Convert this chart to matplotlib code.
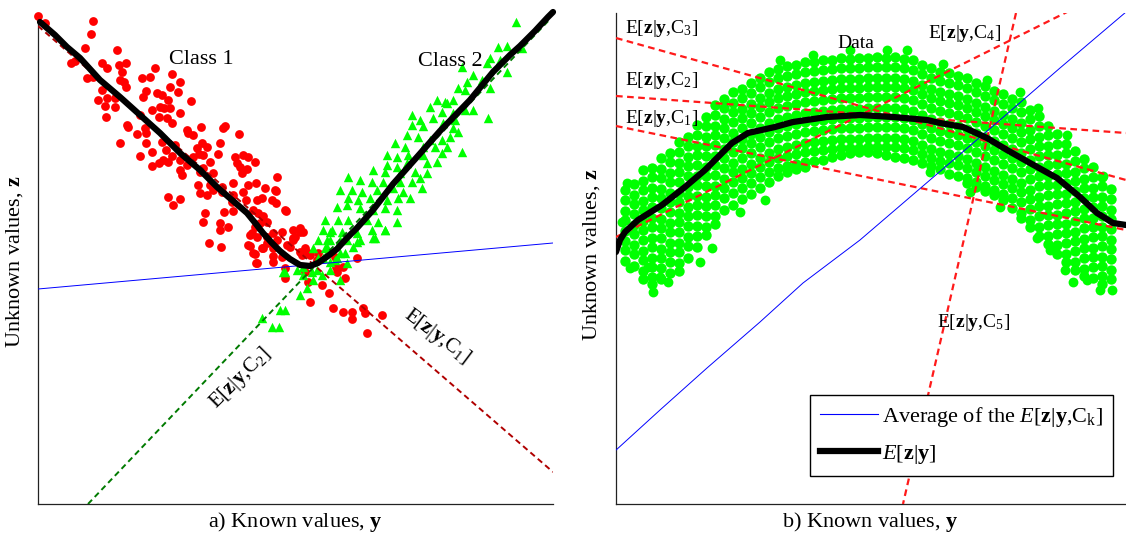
import matplotlib
matplotlib.use("Agg")
import matplotlib.pyplot as plt
from matplotlib.lines import Line2D

plt.rcParams['font.family'] = ['Liberation Serif', 'DejaVu Serif']
plt.rcParams['mathtext.fontset'] = 'custom'
plt.rcParams['mathtext.rm'] = 'Liberation Serif'
plt.rcParams['mathtext.it'] = 'Liberation Serif:italic'
plt.rcParams['mathtext.bf'] = 'Liberation Serif:bold'

# values, in chart units (y grows to the right, z grows upward
# but the axis is inverted so that the numbers follow the reading grid)

# ---- panel a: two classes ----
class1_y = [38, 45, 93, 91, 85, 117, 71, 75, 102, 107, 119, 126, 122, 155, 172, 87, 93, 142, 150, 120,
            124, 126, 180, 170, 178, 102, 146, 157, 162, 143, 98, 107, 115, 168, 191, 105, 115, 152, 160, 164,
            170, 180, 106, 140, 159, 167, 172, 127, 128, 201, 223, 225, 137, 145, 146, 187, 188, 193, 239, 120,
            146, 162, 175, 220, 202, 207, 197, 152, 166, 140, 172, 180, 193, 199, 203, 218, 235, 243, 248, 255,
            152, 159, 163, 168, 187, 210, 237, 240, 180, 182, 200, 203, 213, 242, 247, 198, 210, 222, 233, 248,
            256, 265, 277, 276, 200, 207, 213, 222, 233, 243, 168, 173, 180, 232, 246, 257, 276, 205, 224, 233,
            253, 258, 263, 286, 203, 220, 228, 220, 255, 260, 267, 252, 257, 267, 273, 282, 209, 221, 250, 262,
            267, 277, 293, 290, 255, 273, 282, 257, 285, 275, 262, 272, 285, 293, 300, 303, 293, 287, 273, 300,
            308, 317, 335, 357, 343, 337, 250, 248, 253, 256, 263, 273, 285, 305, 302, 310, 318, 305, 308, 322,
            329, 336, 345, 310, 333, 343, 352, 352, 363, 365, 382, 367, 300, 295]
class1_z = [16, 23, 21, 34, 48, 50, 63, 61, 63, 68, 65, 63, 72, 68, 74, 78, 77, 78, 77, 80,
            82, 87, 82, 87, 92, 90, 91, 93, 95, 97, 100, 98, 98, 100, 101, 106, 107, 110, 107, 108,
            108, 113, 117, 115, 117, 118, 123, 125, 127, 127, 128, 126, 134, 128, 133, 130, 133, 135, 134, 143,
            143, 142, 145, 143, 143, 147, 148, 152, 150, 156, 156, 160, 157, 154, 155, 154, 157, 155, 157, 162,
            166, 163, 160, 162, 165, 162, 163, 167, 170, 175, 172, 168, 173, 173, 169, 185, 185, 187, 183, 185,
            183, 188, 177, 191, 193, 195, 190, 192, 195, 192, 197, 205, 199, 202, 200, 200, 203, 213, 212, 211,
            210, 213, 216, 211, 222, 223, 227, 230, 227, 223, 222, 233, 237, 237, 233, 232, 243, 247, 246, 248,
            243, 240, 238, 247, 254, 256, 257, 263, 268, 190, 198, 200, 210, 230, 228, 232, 240, 245, 248, 252,
            253, 260, 257, 258, 267, 272, 235, 245, 253, 263, 248, 262, 278, 248, 255, 255, 253, 272, 282, 285,
            293, 267, 278, 302, 308, 312, 312, 319, 308, 313, 315, 333, 232, 237]

class2_y = [516, 498, 507, 522, 490, 500, 507, 487, 462, 473, 482, 490, 467, 458, 465, 453, 437, 445, 447, 430,
            442, 453, 465, 473, 488, 412, 420, 433, 443, 455, 412, 423, 453, 458, 407, 418, 430, 442, 450, 395,
            405, 423, 435, 447, 462, 387, 397, 408, 423, 442, 387, 397, 407, 427, 437, 373, 385, 400, 415, 427,
            348, 360, 372, 383, 400, 412, 420, 340, 352, 362, 377, 393, 403, 422, 348, 358, 370, 387, 398, 410,
            337, 347, 360, 373, 385, 397, 325, 338, 348, 367, 378, 397, 323, 332, 342, 357, 372, 385, 318, 330,
            347, 360, 375, 313, 327, 340, 323, 335, 303, 283, 317, 285, 297, 312, 313, 303, 322, 330, 340, 318,
            325, 330, 337, 345, 353, 347, 307, 300, 285, 280, 262, 272, 279, 327, 340, 357, 373, 330, 385]
class2_z = [22, 47, 46, 48, 58, 60, 72, 63, 67, 75, 80, 88, 82, 88, 90, 100, 100, 102, 103, 107,
            112, 113, 110, 110, 118, 115, 120, 118, 123, 120, 125, 126, 128, 132, 135, 137, 140, 140, 137, 143,
            147, 147, 147, 147, 152, 155, 157, 155, 155, 153, 165, 167, 163, 163, 162, 170, 172, 173, 172, 173,
            177, 180, 182, 182, 182, 182, 178, 190, 190, 192, 190, 188, 192, 188, 198, 200, 198, 200, 198, 198,
            207, 205, 208, 210, 208, 210, 220, 220, 220, 220, 222, 222, 230, 230, 232, 233, 230, 230, 240, 240,
            240, 240, 238, 248, 247, 253, 258, 260, 267, 272, 270, 272, 270, 272, 280, 275, 275, 270, 280, 258,
            248, 262, 258, 253, 247, 263, 288, 295, 310, 310, 318, 327, 327, 240, 240, 242, 238, 232, 230]

curve_a_y = [40, 55, 67, 80, 100, 120, 140, 160, 180, 200, 217, 232, 247, 256, 263, 272, 280, 290,
             300, 310, 318, 328, 337, 347, 357, 373, 393, 417, 440, 470, 493, 510, 520, 535, 548, 553]
curve_a_z = [22, 35, 47, 58, 80, 97, 115, 133, 153, 170, 187, 200, 213, 224, 233, 243, 251, 259,
             265, 266, 263, 256, 249, 238, 228, 210, 184, 157, 131, 100, 72, 55, 46, 31, 17, 12]

avg_a_y, avg_a_z = [38, 553], [289, 243]
c1_a_y, c1_a_z = [38, 553], [26, 472]
c2_a_y, c2_a_z = [88, 553], [504, 16]

# ---- panel b: one data cloud, five local models ----
cloud_y = [625, 634, 643, 652, 661, 670, 679, 688, 697, 706, 715, 724, 733, 742, 751, 760, 769, 778, 787,
           796, 805, 814, 823, 832, 841, 850, 859, 868, 877, 886, 895, 904, 913, 922, 931, 940, 949, 958,
           967, 976, 985, 994, 1003, 1012, 1021, 1030, 1039, 1048, 1057, 1066, 1075, 1084, 1093, 1102, 1111]
cloud_z = [
    [190, 200, 211, 220, 231, 241, 250, 261],
    [184, 195, 204, 214, 225, 234, 245, 254, 266],
    [170, 181, 190, 201, 210, 221, 230, 240, 251, 260, 271, 279],
    [168, 177, 188, 197, 207, 218, 227, 238, 247, 258, 267, 277, 284],
    [158, 169, 178, 189, 198, 208, 219, 228, 238, 249, 258, 268, 279],
    [153, 162, 173, 182, 193, 202, 212, 223, 232, 243, 252, 262, 273],
    [142, 152, 163, 172, 182, 193, 202, 213, 222, 232, 243, 252, 263, 271],
    [137, 146, 157, 166, 176, 187, 196, 207, 216, 226, 237, 246, 258],
    [125, 135, 146, 155, 165, 176, 185, 196, 205, 215, 226, 236, 247],
    [117, 126, 137, 146, 156, 167, 176, 186, 197, 206, 216, 227, 235],
    [105, 115, 126, 135, 145, 156, 165, 175, 186, 195, 205, 216, 224],
    [99, 108, 119, 128, 138, 149, 158, 168, 179, 188, 198, 210],
    [92, 103, 112, 122, 133, 142, 152, 163, 172, 182, 193, 205],
    [89, 98, 109, 118, 128, 139, 148, 158, 169, 178, 188, 199],
    [83, 93, 104, 113, 123, 134, 143, 153, 164, 173, 183, 194],
    [78, 87, 98, 107, 117, 128, 137, 147, 158, 167, 177, 188],
    [72, 82, 93, 102, 112, 123, 132, 142, 153, 162, 172, 182],
    [69, 78, 89, 98, 108, 119, 128, 138, 149, 158, 168, 176],
    [66, 76, 87, 96, 106, 117, 126, 136, 147, 156, 166, 172],
    [65, 74, 85, 94, 104, 115, 124, 134, 145, 154, 164, 169],
    [62, 72, 83, 92, 102, 113, 122, 132, 143, 152, 162, 167],
    [62, 71, 82, 91, 101, 112, 121, 131, 142, 151, 161],
    [60, 70, 81, 90, 100, 111, 120, 130, 141, 150, 160],
    [60, 69, 80, 89, 99, 110, 119, 129, 140, 149, 157],
    [58, 68, 79, 88, 98, 109, 118, 128, 139, 148, 155],
    [59, 68, 79, 88, 98, 109, 118, 128, 139, 148, 153],
    [58, 68, 79, 88, 98, 109, 118, 128, 139, 148, 152],
    [58, 67, 78, 87, 97, 108, 117, 127, 138, 147, 152],
    [57, 67, 78, 87, 97, 108, 117, 127, 138, 147, 153],
    [58, 67, 78, 87, 97, 108, 117, 127, 138, 147, 155],
    [57, 67, 78, 87, 97, 108, 117, 127, 138, 147, 157],
    [59, 68, 79, 88, 98, 109, 118, 128, 139, 148, 158],
    [60, 70, 81, 90, 100, 111, 120, 130, 141, 150, 160],
    [65, 74, 85, 94, 104, 115, 124, 134, 145, 154, 163],
    [68, 78, 89, 98, 108, 119, 128, 138, 149, 158, 166],
    [72, 81, 92, 101, 111, 122, 131, 141, 152, 161, 169],
    [73, 83, 94, 103, 113, 124, 133, 143, 154, 163, 174],
    [76, 85, 96, 105, 115, 126, 135, 145, 156, 165, 176],
    [78, 88, 99, 108, 118, 129, 138, 148, 159, 168, 178, 183],
    [83, 92, 103, 112, 122, 133, 142, 152, 163, 172, 182, 187],
    [86, 96, 107, 116, 126, 137, 146, 156, 167, 176, 186, 191],
    [91, 100, 111, 120, 130, 141, 150, 160, 171, 180, 190, 195],
    [94, 104, 115, 124, 134, 145, 154, 164, 175, 184, 194, 200],
    [99, 108, 119, 128, 138, 149, 158, 168, 179, 188, 198, 208],
    [102, 112, 123, 132, 142, 153, 162, 172, 183, 192, 202, 213, 218],
    [110, 119, 130, 139, 149, 160, 169, 179, 190, 199, 209, 220, 227],
    [116, 126, 137, 146, 156, 167, 176, 186, 197, 206, 216, 227, 236],
    [126, 135, 146, 155, 165, 176, 185, 195, 206, 215, 225, 236, 244],
    [134, 144, 155, 164, 174, 185, 194, 204, 215, 224, 234, 245, 254],
    [144, 153, 164, 173, 183, 194, 203, 213, 224, 233, 243, 254, 262],
    [151, 161, 172, 181, 191, 202, 211, 221, 232, 241, 251, 262, 270],
    [159, 168, 179, 188, 198, 209, 218, 228, 239, 248, 258, 269, 276],
    [167, 177, 188, 197, 207, 218, 227, 237, 248, 257, 267, 278],
    [177, 186, 197, 206, 216, 227, 236, 246, 257, 266, 276, 284],
    [189, 199, 210, 219, 229, 240, 249, 259, 270, 279],
]
stray_y = [622, 627, 630, 648, 653, 660, 668, 700, 712, 740, 765, 780, 813, 850, 887, 907, 943, 987,
           1020, 1038, 1067, 1103, 1065, 1073, 1087, 1100, 1112, 1037, 1050, 930, 970, 1000]
stray_z = [222, 183, 268, 267, 292, 277, 282, 262, 248, 212, 200, 60, 55, 50, 50, 50, 64, 80,
           92, 108, 135, 176, 270, 282, 280, 290, 290, 238, 250, 172, 192, 207]

curve_b_y = [616, 620, 625, 638, 662, 685, 705, 722, 732, 748, 775, 793, 827, 860, 893, 927, 940,
             963, 987, 1007, 1030, 1057, 1080, 1097, 1113, 1126]
curve_b_z = [252, 240, 232, 220, 205, 187, 170, 153, 143, 133, 127, 122, 117, 115, 117, 120, 123,
             127, 138, 150, 163, 178, 197, 213, 223, 225]
avg_b_y = [615, 660, 707, 760, 803, 860, 930, 1000, 1060, 1126]
avg_b_z = [451, 410, 368, 322, 283, 240, 180, 120, 68, 12]

local_names = ['C1', 'C2', 'C3', 'C4', 'C5']
local_y = [[616, 1126], [616, 1126], [616, 1126], [616, 1067], [1016, 903]]
local_z = [[126, 230], [96, 133], [38, 180], [237, 12], [13, 504]]


def ez(sub):
    return r'E[$\mathbf{z}$|$\mathbf{y}$,$\mathrm{C}_{' + sub + r'}$]'


fig = plt.figure(figsize=(11.26, 5.40), dpi=100)
ax1 = fig.add_axes([38 / 1126, 1 - 504 / 540, 515 / 1126, 484 / 540])
ax2 = fig.add_axes([616 / 1126, 1 - 504 / 540, 510 / 1126, 491 / 540])

for ax in (ax1, ax2):
    for side in ('top', 'right'):
        ax.spines[side].set_visible(False)
    for side in ('left', 'bottom'):
        ax.spines[side].set_color('#222222')
        ax.spines[side].set_linewidth(0.9)
    ax.set_xticks([])
    ax.set_yticks([])

# panel a
ax1.scatter(class1_y, class1_z, s=40, c='#ff0000', marker='o', linewidths=0, zorder=2, clip_on=False)
ax1.scatter(class2_y, class2_z, s=46, c='#00ff00', marker='^', linewidths=0, zorder=2, clip_on=False)
ax1.plot(avg_a_y, avg_a_z, color='#0000ff', lw=0.7, zorder=3)
ax1.plot(c1_a_y, c1_a_z, color='#b00000', lw=1.4, dashes=(3, 2), zorder=3)
ax1.plot(c2_a_y, c2_a_z, color='#007a00', lw=1.4, dashes=(3, 2), zorder=3)
ax1.plot(curve_a_y, curve_a_z, color='black', lw=4.5, solid_capstyle='round', zorder=4, clip_on=False)
ax1.set_xlim(38, 553)
ax1.set_ylim(504, 20)

ax1.text(201, 60, 'Class 1', fontsize=16, ha='center', va='center')
ax1.text(450, 62, 'Class 2', fontsize=16, ha='center', va='center')
ax1.text(240, 378, ez('2'), fontsize=15, rotation=45, ha='center', va='center', rotation_mode='anchor')
ax1.text(437, 336, ez('1'), fontsize=15, rotation=-37, ha='center', va='center', rotation_mode='anchor')

# panel b
for cy, cz in zip(cloud_y, cloud_z):
    ax2.scatter([cy] * len(cz), cz, s=56, c='#00ff00', linewidths=0, zorder=2)
ax2.scatter(stray_y, stray_z, s=50, c='#00ff00', linewidths=0, zorder=2)
for ly, lz in zip(local_y, local_z):
    ax2.plot(ly, lz, color='#ff1a1a', lw=1.6, dashes=(3, 2), zorder=3)
ax2.plot(avg_b_y, avg_b_z, color='#0000ff', lw=0.7, zorder=3)
ax2.plot(curve_b_y, curve_b_z, color='black', lw=4.5, solid_capstyle='round', zorder=4)
ax2.set_xlim(616, 1126)
ax2.set_ylim(504, 13)

ax2.text(625, 28, ez('3'), fontsize=14, ha='left', va='center')
ax2.text(625, 80, ez('2'), fontsize=14, ha='left', va='center')
ax2.text(625, 118, ez('1'), fontsize=14, ha='left', va='center')
ax2.text(856, 43, 'Data', fontsize=14, ha='center', va='center')
ax2.text(965, 33, ez('4'), fontsize=14, ha='center', va='center')
ax2.text(974, 322, ez('5'), fontsize=14, ha='center', va='center')

handles = [Line2D([], [], color='#0000ff', lw=0.8), Line2D([], [], color='black', lw=4.5)]
labels = [r'Average of the $E$[$\mathbf{z}$|$\mathbf{y}$,$\mathrm{C}_\mathrm{k}$]',
          r'$E$[$\mathbf{z}$|$\mathbf{y}$]']
leg = ax2.legend(handles, labels, loc='lower right', bbox_to_anchor=(0.975, 0.057), fontsize=16,
                 fancybox=False, framealpha=1, edgecolor='black', handlelength=2.6, handletextpad=0.2,
                 borderaxespad=0, borderpad=0.45, labelspacing=0.65)
leg.get_frame().set_linewidth(1.0)
leg.set_zorder(5)

# axis labels
fig.text(295 / 1126, 1 - 522 / 540, r'a) Known values, $\mathbf{y}$', fontsize=16, ha='center', va='center')
fig.text(870 / 1126, 1 - 522 / 540, r'b) Known values, $\mathbf{y}$', fontsize=16, ha='center', va='center')
fig.text(15 / 1126, 1 - 262 / 540, r'Unknown values, $\mathbf{z}$', fontsize=16, rotation=90,
         ha='center', va='center')
fig.text(592 / 1126, 1 - 255 / 540, r'Unknown values, $\mathbf{z}$', fontsize=16, rotation=90,
         ha='center', va='center')

fig.savefig('out.png', dpi=100)
